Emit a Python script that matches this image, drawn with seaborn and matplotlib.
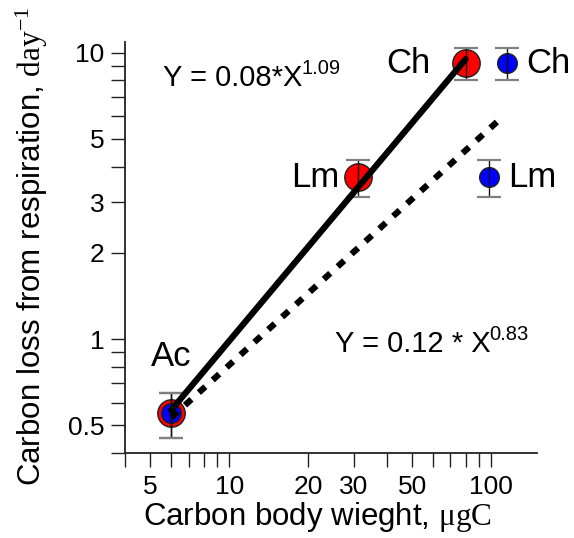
import numpy as np
import pandas as pd
import matplotlib
matplotlib.use("Agg")
import matplotlib.pyplot as plt
import seaborn as sns
from matplotlib.ticker import FixedLocator, NullFormatter, FixedFormatter

# ---- data ----
species = ["Ac", "Lm", "Ch"]
red_x = [6.0, 31.0, 80.0]
red_y = [0.55, 3.68, 9.2]
red_err = [0.10, 0.54, 1.2]
blue_x = [6.0, 98.0, 115.0]
blue_y = [0.55, 3.68, 9.2]
blue_err = [0.10, 0.54, 1.2]

fit_solid = {"a": 0.08, "b": 1.09, "xmin": 6.0, "xmax": 80.0}
fit_dash = {"a": 0.12, "b": 0.83, "xmin": 6.0, "xmax": 112.0}

x_major = [5, 10, 20, 30, 50, 100]
x_minor = [4, 6, 7, 8, 9, 40, 60, 70, 80, 90]
y_major = [0.5, 1, 2, 3, 5, 10]
y_minor = [0.4, 0.6, 0.7, 0.8, 0.9, 4, 6, 7, 8, 9]
x_lim = (4, 150)
y_lim = (0.4, 10.9)

sns.set_theme(style="white")
plt.rcParams["font.family"] = ["Liberation Sans", "DejaVu Sans"]
plt.rcParams["mathtext.fontset"] = "custom"
plt.rcParams["mathtext.rm"] = "Liberation Serif"
plt.rcParams["mathtext.sf"] = "Liberation Sans"
plt.rcParams["mathtext.it"] = "Liberation Serif:italic"
for k in ["text.color", "axes.labelcolor", "xtick.color", "ytick.color", "axes.edgecolor"]:
    plt.rcParams[k] = "black"

W, H = 574, 538
fig = plt.figure(figsize=(W / 100, H / 100), dpi=100)
ax = fig.add_axes([125 / W, 1 - 453 / H, (537 - 125) / W, (453 - 42) / H])
ax.set_xscale("log")
ax.set_yscale("log")

red_df = pd.DataFrame({"x": red_x, "y": red_y, "sp": species})
blue_df = pd.DataFrame({"x": blue_x, "y": blue_y, "sp": species})

sns.scatterplot(data=red_df, x="x", y="y", ax=ax, s=390, color="#ff0000",
                edgecolor="#202020", linewidth=1.0, zorder=2, legend=False)
sns.scatterplot(data=blue_df, x="x", y="y", ax=ax, s=200, color="#0000ff",
                edgecolor="#202020", linewidth=1.0, zorder=2.1, legend=False)

for xs, ys, es in [(red_x, red_y, red_err), (blue_x, blue_y, blue_err)]:
    eb = ax.errorbar(xs, ys, yerr=es, fmt="none", ecolor="#111111", elinewidth=1.0,
                     capsize=8.3, capthick=1.6, zorder=2.5)
    for cap in eb[1]:
        cap.set_color("#808080")
        cap.set_markeredgecolor("#808080")
        cap.set_markerfacecolor("#808080")

for fit, style in [(fit_solid, "-"), (fit_dash, (0, (1.4, 1.6)))]:
    xx = np.geomspace(fit["xmin"], fit["xmax"], 50)
    line_df = pd.DataFrame({"x": xx, "y": fit["a"] * xx ** fit["b"]})
    sns.lineplot(data=line_df, x="x", y="y", ax=ax, color="black", linewidth=4.5,
                 linestyle=style, zorder=3, legend=False)
    ax.get_lines()[-1].set_dash_capstyle("butt")

ax.set_xlim(*x_lim)
ax.set_ylim(*y_lim)

ax.xaxis.set_major_locator(FixedLocator(x_major))
ax.xaxis.set_major_formatter(FixedFormatter([str(v) for v in x_major]))
ax.xaxis.set_minor_locator(FixedLocator(x_minor))
ax.xaxis.set_minor_formatter(NullFormatter())
ax.yaxis.set_major_locator(FixedLocator(y_major))
ax.yaxis.set_major_formatter(FixedFormatter([f"{v:g}" for v in y_major]))
ax.yaxis.set_minor_locator(FixedLocator(y_minor))
ax.yaxis.set_minor_formatter(NullFormatter())

ax.tick_params(which="both", direction="out", length=10, width=1.0, color="#222222",
               bottom=True, left=True, top=False, right=False)
ax.tick_params(which="major", labelsize=19, pad=5)
ax.tick_params(axis="x", which="major", pad=6)

for s in ["top", "right"]:
    ax.spines[s].set_visible(False)
for s in ["left", "bottom"]:
    ax.spines[s].set_color("#222222")
    ax.spines[s].set_linewidth(1.3)
ax.grid(False)

ax.set_xlabel(r"Carbon body wieght, $\mathrm{\mu gC}$", fontsize=22.5)
ax.xaxis.set_label_coords((317 - 125) / 412, -(500 - 453) / 411)
ax.xaxis.label.set_va("top")
ax.set_ylabel(r"Carbon loss from respiration, $\mathrm{day}^{-1}$", fontsize=22.5)
ax.yaxis.set_label_coords(-(125 - 50) / 412, (453 - 246) / 411)

# point labels
lab_fs = 25
ax.annotate("Ch", (red_x[2], red_y[2]), xytext=(-25, 0), textcoords="offset points",
            ha="right", va="center", fontsize=lab_fs)
ax.annotate("Ch", (blue_x[2], blue_y[2]), xytext=(14, 0), textcoords="offset points",
            ha="left", va="center", fontsize=lab_fs)
ax.annotate("Lm", (red_x[1], red_y[1]), xytext=(-13, 0), textcoords="offset points",
            ha="right", va="center", fontsize=lab_fs)
ax.annotate("Lm", (blue_x[1], blue_y[1]), xytext=(14, 0), textcoords="offset points",
            ha="left", va="center", fontsize=lab_fs)
ax.annotate("Ac", (red_x[0], red_y[0]), xytext=(0, 41), textcoords="offset points",
            ha="center", va="center", fontsize=lab_fs)

# equations: main text plus a separately sized superscript
fig.canvas.draw()
renderer = fig.canvas.get_renderer()
for main, sup, x0, base in [("Y = 0.08*X", "1.09", 163, 86),
                            ("Y = 0.12 * X", "0.83", 335, 352)]:
    t = fig.text(x0 / W, 1 - base / H, main, ha="left", va="baseline", fontsize=21)
    bb = t.get_window_extent(renderer)
    fig.text((bb.x1 - 1) / W, 1 - (base - 12) / H, sup, ha="left", va="baseline",
             fontsize=14.5)

fig.savefig("out.png", dpi=100)
